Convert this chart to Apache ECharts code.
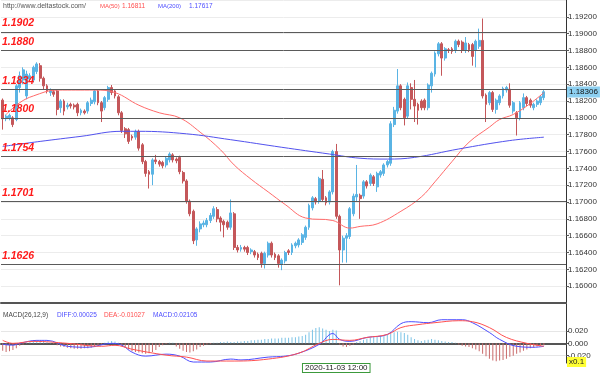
<!DOCTYPE html>
<html><head><meta charset="utf-8">
<script src="https://cdn.jsdelivr.net/npm/echarts@6/dist/echarts.min.js"></script>
<style>html,body{margin:0;padding:0;background:#fff}#c{width:600px;height:373px}</style>
</head><body><div id="c"></div>
<script>
// [open, close, low, high]
const candles = [
[1.1821,1.1799,1.1786,1.1823],[1.1799,1.1802,1.1796,1.1804],[1.1800,1.1803,1.1797,1.1805],[1.1800,1.1792,1.1789,1.1802],
[1.1798,1.1838,1.1796,1.1840],[1.1836,1.1850,1.1830,1.1855],[1.1845,1.1857,1.1840,1.1860],[1.1826,1.1852,1.1822,1.1856],
[1.1846,1.1850,1.1843,1.1853],[1.1845,1.1860,1.1842,1.1862],[1.1855,1.1864,1.1852,1.1866],[1.1862,1.1847,1.1843,1.1865],
[1.1847,1.1838,1.1834,1.1849],[1.1838,1.1832,1.1829,1.1840],[1.1830,1.1832,1.1826,1.1835],[1.1831,1.1828,1.1825,1.1833],
[1.1832,1.1810,1.1803,1.1834],[1.1812,1.1820,1.1806,1.1822],[1.1820,1.1808,1.1803,1.1822],[1.1813,1.1815,1.1810,1.1818],
[1.1816,1.1814,1.1811,1.1818],[1.1815,1.1813,1.1810,1.1817],[1.1816,1.1806,1.1802,1.1818],[1.1806,1.1809,1.1803,1.1811],
[1.1808,1.1806,1.1804,1.1810],[1.1808,1.1818,1.1805,1.1820],[1.1817,1.1821,1.1814,1.1824],[1.1819,1.1832,1.1816,1.1834],
[1.1832,1.1818,1.1815,1.1834],[1.1818,1.1808,1.1795,1.1820],[1.1812,1.1824,1.1809,1.1826],[1.1822,1.1836,1.1819,1.1838],
[1.1836,1.1830,1.1827,1.1839],[1.1832,1.1826,1.1823,1.1834],[1.1825,1.1806,1.1803,1.1827],[1.1806,1.1785,1.1782,1.1808],
[1.1787,1.1781,1.1776,1.1789],[1.1786,1.1772,1.1769,1.1788],[1.1778,1.1776,1.1773,1.1780],[1.1777,1.1784,1.1774,1.1786],
[1.1784,1.1764,1.1761,1.1786],[1.1768,1.1748,1.1745,1.1770],[1.1748,1.1734,1.1730,1.1750],[1.1736,1.1733,1.1716,1.1738],
[1.1733,1.1750,1.1720,1.1752],[1.1750,1.1748,1.1745,1.1756],[1.1748,1.1745,1.1742,1.1750],[1.1747,1.1743,1.1740,1.1749],
[1.1744,1.1752,1.1741,1.1754],[1.1750,1.1757,1.1747,1.1759],[1.1756,1.1750,1.1747,1.1758],[1.1751,1.1749,1.1746,1.1753],
[1.1753,1.1736,1.1733,1.1755],[1.1735,1.1725,1.1722,1.1737],[1.1725,1.1701,1.1698,1.1727],[1.1701,1.1686,1.1683,1.1703],
[1.1689,1.1654,1.1650,1.1691],[1.1655,1.1668,1.1648,1.1670],[1.1668,1.1674,1.1664,1.1677],[1.1673,1.1675,1.1670,1.1678],
[1.1673,1.1678,1.1670,1.1681],[1.1678,1.1684,1.1675,1.1687],[1.1683,1.1692,1.1680,1.1695],[1.1691,1.1680,1.1676,1.1694],
[1.1681,1.1676,1.1665,1.1683],[1.1677,1.1673,1.1658,1.1679],[1.1676,1.1670,1.1667,1.1678],[1.1670,1.1687,1.1667,1.1703],
[1.1686,1.1646,1.1643,1.1688],[1.1646,1.1643,1.1640,1.1649],[1.1644,1.1646,1.1641,1.1649],[1.1646,1.1644,1.1641,1.1648],
[1.1646,1.1640,1.1637,1.1648],[1.1641,1.1643,1.1638,1.1645],[1.1641,1.1637,1.1634,1.1643],[1.1638,1.1634,1.1631,1.1640],
[1.1639,1.1627,1.1622,1.1641],[1.1627,1.1639,1.1621,1.1641],[1.1637,1.1651,1.1634,1.1653],[1.1651,1.1637,1.1634,1.1653],
[1.1638,1.1634,1.1631,1.1640],[1.1636,1.1627,1.1622,1.1638],[1.1626,1.1631,1.1619,1.1633],[1.1630,1.1640,1.1627,1.1642],
[1.1642,1.1640,1.1637,1.1644],[1.1640,1.1649,1.1637,1.1651],[1.1648,1.1651,1.1645,1.1653],[1.1649,1.1655,1.1646,1.1657],
[1.1652,1.1661,1.1649,1.1663],[1.1658,1.1670,1.1655,1.1672],[1.1670,1.1696,1.1667,1.1698],[1.1693,1.1705,1.1690,1.1707],
[1.1704,1.1700,1.1697,1.1706],[1.1701,1.1728,1.1698,1.1730],[1.1727,1.1703,1.1700,1.1738],[1.1705,1.1699,1.1696,1.1707],
[1.1700,1.1712,1.1697,1.1714],[1.1712,1.1760,1.1709,1.1762],[1.1760,1.1683,1.1680,1.1769],[1.1683,1.1643,1.1601,1.1685],
[1.1643,1.1657,1.1628,1.1660],[1.1657,1.1660,1.1628,1.1663],[1.1659,1.1692,1.1656,1.1694],[1.1686,1.1707,1.1683,1.1710],
[1.1706,1.1709,1.1700,1.1744],[1.1708,1.1704,1.1680,1.1710],[1.1707,1.1724,1.1704,1.1726],[1.1724,1.1719,1.1716,1.1726],
[1.1722,1.1732,1.1719,1.1734],[1.1730,1.1722,1.1719,1.1732],[1.1718,1.1734,1.1712,1.1736],[1.1732,1.1736,1.1729,1.1738],
[1.1734,1.1744,1.1731,1.1746],[1.1744,1.1748,1.1741,1.1750],[1.1746,1.1793,1.1743,1.1796],[1.1792,1.1809,1.1789,1.1813],
[1.1808,1.1838,1.1805,1.1858],[1.1838,1.1812,1.1809,1.1840],[1.1822,1.1800,1.1791,1.1824],[1.1802,1.1838,1.1799,1.1842],
[1.1836,1.1822,1.1810,1.1841],[1.1822,1.1814,1.1795,1.1845],[1.1816,1.1809,1.1792,1.1818],[1.1820,1.1812,1.1809,1.1822],
[1.1821,1.1812,1.1809,1.1823],[1.1812,1.1839,1.1809,1.1841],[1.1838,1.1853,1.1830,1.1855],[1.1852,1.1877,1.1849,1.1879],
[1.1876,1.1888,1.1873,1.1890],[1.1888,1.1871,1.1850,1.1890],[1.1871,1.1882,1.1868,1.1884],[1.1881,1.1880,1.1877,1.1883],
[1.1882,1.1879,1.1876,1.1884],[1.1880,1.1891,1.1877,1.1893],[1.1891,1.1887,1.1884,1.1893],[1.1890,1.1880,1.1877,1.1892],
[1.1880,1.1889,1.1877,1.1896],[1.1887,1.1881,1.1878,1.1889],[1.1887,1.1873,1.1862,1.1889],[1.1880,1.1891,1.1860,1.1893],
[1.1885,1.1892,1.1882,1.1906],[1.1892,1.1826,1.1823,1.1918],[1.1827,1.1816,1.1795,1.1829],[1.1818,1.1830,1.1815,1.1832],
[1.1830,1.1810,1.1807,1.1832],[1.1810,1.1821,1.1805,1.1823],[1.1818,1.1826,1.1815,1.1828],[1.1826,1.1835,1.1823,1.1837],
[1.1833,1.1836,1.1830,1.1838],[1.1834,1.1815,1.1812,1.1841],[1.1808,1.1818,1.1805,1.1820],[1.1806,1.1800,1.1779,1.1808],
[1.1800,1.1818,1.1797,1.1820],[1.1812,1.1824,1.1809,1.1829],[1.1824,1.1817,1.1814,1.1826],[1.1821,1.1815,1.1812,1.1823],
[1.1812,1.1816,1.1809,1.1818],[1.1816,1.1820,1.1813,1.1822],[1.1818,1.1825,1.1815,1.1827],[1.1824,1.1831,1.1821,1.1833]
];
const macdHist = [
-0.012,-0.014,-0.013,-0.011,-0.008,
-0.004,-0.002,0.001,0.002,
0.004,0.005,0.005,0.004,
0.002,0.001,-0.001,
-0.003,-0.005,-0.006,-0.007,-0.008,-0.009,-0.009,-0.009,-0.008,-0.008,-0.007,-0.006,-0.004,
-0.002,0.001,0.003,0.004,0.003,0.001,
-0.004,-0.007,-0.010,-0.013,-0.014,-0.015,-0.016,-0.017,-0.016,-0.014,-0.011,
-0.006,-0.003,-0.001,0.001,0.001,
-0.005,-0.009,-0.012,-0.014,-0.015,-0.013,-0.010,
-0.006,-0.004,-0.002,-0.001,0.001,
0.001,0.002,0.002,0.003,0.002,0.002,0.003,0.003,0.004,0.004,0.005,0.005,0.006,0.006,0.007,0.007,0.008,0.008,0.008,0.009,0.009,0.009,0.010,0.010,0.011,0.012,
0.014,0.018,0.022,0.025,0.026,0.024,0.022,0.020,0.022,0.021,
-0.002,-0.005,-0.006,-0.004,-0.002,
0.002,0.004,0.006,0.008,0.009,0.010,0.011,0.012,0.013,0.014,0.016,0.018,0.019,0.018,0.017,0.014,0.010,
0.007,0.005,0.004,0.005,0.006,0.007,0.006,0.005,0.004,0.003,0.002,0.002,0.001,
-0.002,-0.004,-0.005,-0.006,-0.008,-0.010,-0.013,-0.017,-0.021,
-0.025,-0.028,-0.029,-0.028,-0.027,-0.025,-0.022,-0.020,-0.017,-0.015,-0.012,-0.010,-0.008,-0.007,
-0.005,-0.004,-0.003
];
// [candle index, value]
const ma50Points = [[1,1.1804],[5,1.1818],[9,1.1826],[16,1.1833],[27,1.1833],[33,1.1830],[40,1.1815],[46,1.1806],[52,1.1800],[58,1.1783],[64,1.1762],[68,1.1744],[73,1.1727],[78,1.1712],[83,1.1697],[89,1.1681],[97,1.1678],[102,1.1669],[105,1.1671],[110,1.1674],[117,1.1689],[123,1.1706],[127,1.1724],[132,1.1748],[137,1.1771],[143,1.1789],[146,1.1798],[150,1.1804],[155,1.1817],[159,1.1830]];
const ma200Points = [[0,1.1766],[11,1.1772],[23,1.1778],[35,1.1784],[40,1.1784],[54,1.1781],[67,1.1774],[82,1.1765],[96,1.1757],[105,1.1752],[113,1.1751],[121,1.1753],[134,1.1763],[149,1.1773],[159,1.1777]];
const diffPoints = [[0,-0.0016],[3,-0.003],[5,0],[10,0.0048],[13,0.0048],[19,-0.0048],[25,-0.0064],[32,0],[35,-0.003],[38,-0.0144],[42,-0.0208],[48,-0.0176],[52,-0.0208],[56,-0.0304],[61,-0.0304],[67,-0.0256],[70,-0.027],[78,-0.0224],[83,-0.0208],[87,-0.016],[93,-0.0016],[97,0.016],[99,0.0064],[102,0.0032],[107,0.0096],[113,0.0144],[117,0.032],[120,0.0352],[125,0.0336],[129,0.0384],[135,0.0384],[138,0.0336],[143,0.0176],[146,0.0064],[151,-0.0048],[156,-0.0064],[159,-0.0048]];
const deaPoints = [[0,0.0048],[3,0],[9,0.0032],[19,0],[29,-0.0048],[33,-0.0032],[38,-0.0096],[48,-0.0192],[54,-0.0224],[60,-0.0288],[68,-0.0288],[78,-0.0256],[87,-0.016],[93,0],[97,0.0064],[102,0.0048],[107,0.0096],[113,0.0144],[117,0.0256],[122,0.0304],[127,0.0336],[134,0.0368],[138,0.0352],[143,0.0256],[148,0.0096],[154,0],[159,-0.0048]];
const levelLines = [1.1902, 1.1880, 1.1834, 1.1800, 1.1754, 1.1701, 1.1626];
const lastPrice = 1.18306;
const macdGuides = [0.02, 0, -0.02];
const slotCount = 166;
const crosshairIndex = 98;
const crosshairLabel = '2020-11-03 12:00';
const categories = Array.from({length: slotCount}, (_, i) => i === crosshairIndex ? crosshairLabel : String(i));

const UP = '#5ab4e4', DOWN = '#c4575a';
const FONT = 'Liberation Sans';
const chart = echarts.init(document.getElementById('c'), null, {renderer: 'canvas'});
chart.setOption({
  animation: false,
  backgroundColor: '#ffffff',
  grid: [
    {left: 1, right: 34, top: -4, bottom: 70},
    {left: 1, right: 34, top: 304, bottom: 9}
  ],
  xAxis: [
    {type: 'category', gridIndex: 0, data: categories, boundaryGap: true,
     axisLine: {show: true, lineStyle: {color: '#555', width: 2}}, axisTick: {show: false}, axisLabel: {show: false}, splitLine: {show: false}},
    {type: 'category', gridIndex: 1, data: categories, boundaryGap: true,
     axisLine: {show: true, lineStyle: {color: '#555', width: 2}}, axisTick: {show: false},
     axisLabel: {show: true, interval: (idx) => idx === crosshairIndex, fontSize: 8, fontFamily: FONT, color: '#222',
       margin: 1, backgroundColor: '#fff', borderColor: '#3c9a3c', borderWidth: 1, padding: [0, 2, 0, 2]},
     splitLine: {show: false}}
  ],
  yAxis: [
    {type: 'value', gridIndex: 0, position: 'right', min: 1.158, max: 1.194, interval: 0.002, scale: true,
     axisLine: {show: true, lineStyle: {color: '#333'}},
     axisTick: {show: true, length: 3, lineStyle: {color: '#555'}},
     axisLabel: {fontSize: 8, fontFamily: FONT, color: '#333', margin: 2, showMinLabel: false, showMaxLabel: false,
       formatter: v => v.toFixed(5)},
     splitLine: {show: true, lineStyle: {color: '#ececec'}}},
    {type: 'value', gridIndex: 1, position: 'right', min: -0.032, max: 0.064,
     axisLine: {show: true, lineStyle: {color: '#333'}},
     axisTick: {show: true, length: 3, customValues: macdGuides, lineStyle: {color: '#555'}},
     axisLabel: {fontSize: 8, fontFamily: FONT, color: '#333', margin: 2, customValues: macdGuides,
       formatter: v => v.toFixed(3)},
     splitLine: {show: false}}
  ],
  series: [
    {type: 'candlestick', xAxisIndex: 0, yAxisIndex: 0, data: candles, barWidth: '70%',
     itemStyle: {color: UP, color0: DOWN, borderColor: UP, borderColor0: DOWN, borderWidth: 1},
     markLine: {
       symbol: ['none', 'none'], silent: true, precision: 5,
       lineStyle: {color: '#5a5a5a', width: 1, type: 'solid'},
       label: {position: 'insideStartTop', distance: [1, 3], formatter: p => p.value.toFixed(4), color: '#ff1a1a',
         fontStyle: 'italic', fontWeight: 'bold', fontSize: 10.5, fontFamily: FONT},
       data: levelLines.map(v => ({yAxis: v})).concat([{
         yAxis: lastPrice, lineStyle: {color: 'rgba(0,0,0,0)', width: 0},
         label: {position: 'end', distance: 1, formatter: () => lastPrice.toFixed(5), color: '#111',
           fontStyle: 'normal', fontWeight: 'normal', fontSize: 8, fontFamily: FONT,
           backgroundColor: '#8ccff0', padding: [2, 2, 1, 2]}
       }])
     }},
    {type: 'line', xAxisIndex: 0, yAxisIndex: 0, data: ma50Points, smooth: 0.4, symbol: 'none',
     lineStyle: {color: '#ff6a6a', width: 1}},
    {type: 'line', xAxisIndex: 0, yAxisIndex: 0, data: ma200Points, smooth: 0.4, symbol: 'none',
     lineStyle: {color: '#5252ee', width: 1}},
    {type: 'bar', xAxisIndex: 1, yAxisIndex: 1, data: macdHist, barWidth: 1,
     itemStyle: {color: p => p.value >= 0 ? '#7cc3e6' : '#c96a6a'},
     markLine: {symbol: ['none', 'none'], silent: true, label: {show: false}, precision: 5,
       lineStyle: {color: '#e6e6e6', width: 1, type: 'solid'}, z: 0,
       data: macdGuides.map(v => ({yAxis: v}))}},
    {type: 'line', xAxisIndex: 1, yAxisIndex: 1, data: diffPoints, smooth: 0.4, symbol: 'none',
     lineStyle: {color: '#4d4dff', width: 1}},
    {type: 'line', xAxisIndex: 1, yAxisIndex: 1, data: deaPoints, smooth: 0.4, symbol: 'none',
     lineStyle: {color: '#ff5050', width: 1}}
  ],
  graphic: [
    {type: 'text', x: 3, y: 6, style: {text: 'http://www.deltastock.com/', font: '7px ' + FONT, fill: '#555', verticalAlign: 'middle'}},
    {type: 'text', x: 100, y: 6, style: {text: 'MA(50)', font: '6px ' + FONT, fill: '#ff4d4d', verticalAlign: 'middle'}},
    {type: 'text', x: 122, y: 6, style: {text: '1.16811', font: '6.5px ' + FONT, fill: '#ff4d4d', verticalAlign: 'middle'}},
    {type: 'text', x: 158, y: 6, style: {text: 'MA(200)', font: '6px ' + FONT, fill: '#4d4dff', verticalAlign: 'middle'}},
    {type: 'text', x: 189, y: 6, style: {text: '1.17617', font: '6.5px ' + FONT, fill: '#4d4dff', verticalAlign: 'middle'}},
    {type: 'text', x: 3, y: 315, style: {text: 'MACD(26,12,9)', font: '6.5px ' + FONT, fill: '#444', verticalAlign: 'middle'}},
    {type: 'text', x: 57, y: 315, style: {text: 'DIFF:0.00025', font: '6.5px ' + FONT, fill: '#4d4dff', verticalAlign: 'middle'}},
    {type: 'text', x: 104, y: 315, style: {text: 'DEA:-0.01027', font: '6.5px ' + FONT, fill: '#ff4d4d', verticalAlign: 'middle'}},
    {type: 'text', x: 153, y: 315, style: {text: 'MACD:0.02105', font: '6.5px ' + FONT, fill: '#4d4dff', verticalAlign: 'middle'}},
    {type: 'text', x: 567, y: 362, z: 100, style: {text: 'x0.1', font: '8px ' + FONT, fill: '#222', verticalAlign: 'middle',
      backgroundColor: '#ffff33', padding: [1, 2, 1, 2]}}
  ]
});
</script></body></html>
